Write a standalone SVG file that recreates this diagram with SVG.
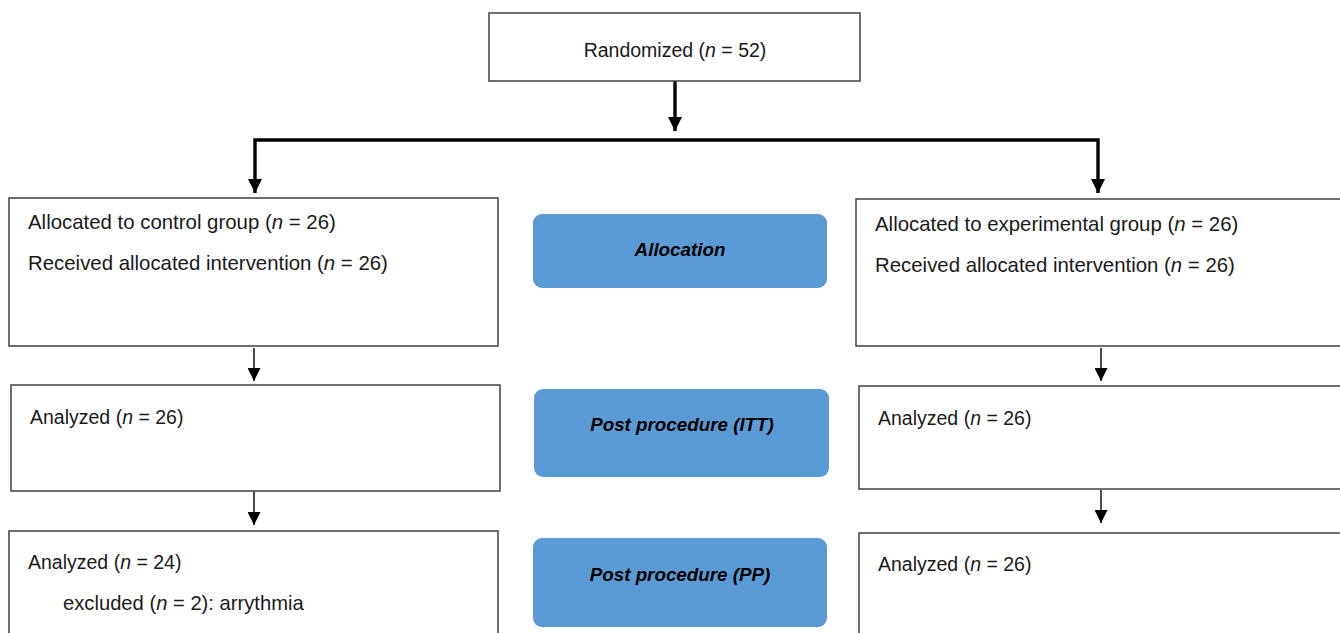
<svg xmlns="http://www.w3.org/2000/svg" width="1340" height="633" viewBox="0 0 1340 633">
<style>
.box{fill:#fff;stroke:#404040;stroke-width:1.5}
.stage{fill:#5b9bd5}
.t{font-family:"Liberation Sans",Arial,sans-serif;font-size:19.5px;fill:#1a1a1a}
.w{font-size:20.4px}
.s{font-family:"Liberation Sans",Arial,sans-serif;font-size:18.8px;font-weight:bold;font-style:italic;fill:#000;text-anchor:middle}
.thick{stroke:#000;stroke-width:3.4;fill:none}
.thin{stroke:#000;stroke-width:1.4;fill:none}
</style>
<defs>
<marker id="ah" markerUnits="userSpaceOnUse" viewBox="0 0 14 14" markerWidth="15" markerHeight="14" refX="14" refY="7" orient="auto">
<path d="M0,0 L14,7 L0,14 Z" fill="#000"/>
</marker>
<marker id="as" markerUnits="userSpaceOnUse" viewBox="0 0 13 13" markerWidth="13" markerHeight="13" refX="13" refY="6.5" orient="auto">
<path d="M0,0 L13,6.5 L0,13 Z" fill="#000"/>
</marker>
</defs>
<rect width="1340" height="633" fill="#fff"/>
<g id="connectors">
<path class="thick" d="M675,81 V131" marker-end="url(#ah)"/>
<path class="thick" d="M255,193 V140 H1098 V193" />
<path d="M248,179 L262,179 L255,193 Z M1091,179 L1105,179 L1098,193 Z" fill="#000"/>
<path class="thin" d="M254,348 V381" marker-end="url(#as)"/>
<path class="thin" d="M254,491 V525" marker-end="url(#as)"/>
<path class="thin" d="M1101,348 V381" marker-end="url(#as)"/>
<path class="thin" d="M1101,490 V523" marker-end="url(#as)"/>
</g>
<g id="randomized">
<rect class="box" x="489" y="13" width="371" height="68"/>
<text class="t" x="675" y="57" text-anchor="middle">Randomized (<tspan font-style="italic">n</tspan> = 52)</text>
</g>
<g id="control-allocation">
<rect class="box" x="9" y="198" width="489" height="148"/>
<text class="t w" x="28" y="229">Allocated to control group (<tspan font-style="italic">n</tspan> = 26)</text>
<text class="t w" x="28" y="270">Received allocated intervention (<tspan font-style="italic">n</tspan> = 26)</text>
</g>
<g id="experimental-allocation">
<rect class="box" x="856" y="199" width="500" height="147"/>
<text class="t w" x="875" y="231">Allocated to experimental group (<tspan font-style="italic">n</tspan> = 26)</text>
<text class="t w" x="875" y="272">Received allocated intervention (<tspan font-style="italic">n</tspan> = 26)</text>
</g>
<g id="stage-allocation">
<rect class="stage" x="533" y="214" width="294" height="74" rx="9"/>
<text class="s" x="680" y="256">Allocation</text>
</g>
<g id="control-itt">
<rect class="box" x="11" y="385" width="489" height="106"/>
<text class="t" x="30" y="424">Analyzed (<tspan font-style="italic">n</tspan> = 26)</text>
</g>
<g id="experimental-itt">
<rect class="box" x="859" y="386" width="500" height="103"/>
<text class="t" x="878" y="425">Analyzed (<tspan font-style="italic">n</tspan> = 26)</text>
</g>
<g id="stage-itt">
<rect class="stage" x="534" y="389" width="295" height="88" rx="9"/>
<text class="s" x="682" y="431">Post procedure (ITT)</text>
</g>
<g id="control-pp">
<rect class="box" x="9" y="531" width="489" height="120"/>
<text class="t" x="28" y="569">Analyzed (<tspan font-style="italic">n</tspan> = 24)</text>
<text class="t w" x="63" y="610" style="font-size:20.2px">excluded (<tspan font-style="italic">n</tspan> = 2): arrythmia</text>
</g>
<g id="experimental-pp">
<rect class="box" x="859" y="533" width="500" height="120"/>
<text class="t" x="878" y="571">Analyzed (<tspan font-style="italic">n</tspan> = 26)</text>
</g>
<g id="stage-pp">
<rect class="stage" x="533" y="538" width="294" height="89" rx="9"/>
<text class="s" x="680" y="581">Post procedure (PP)</text>
</g>
</svg>
